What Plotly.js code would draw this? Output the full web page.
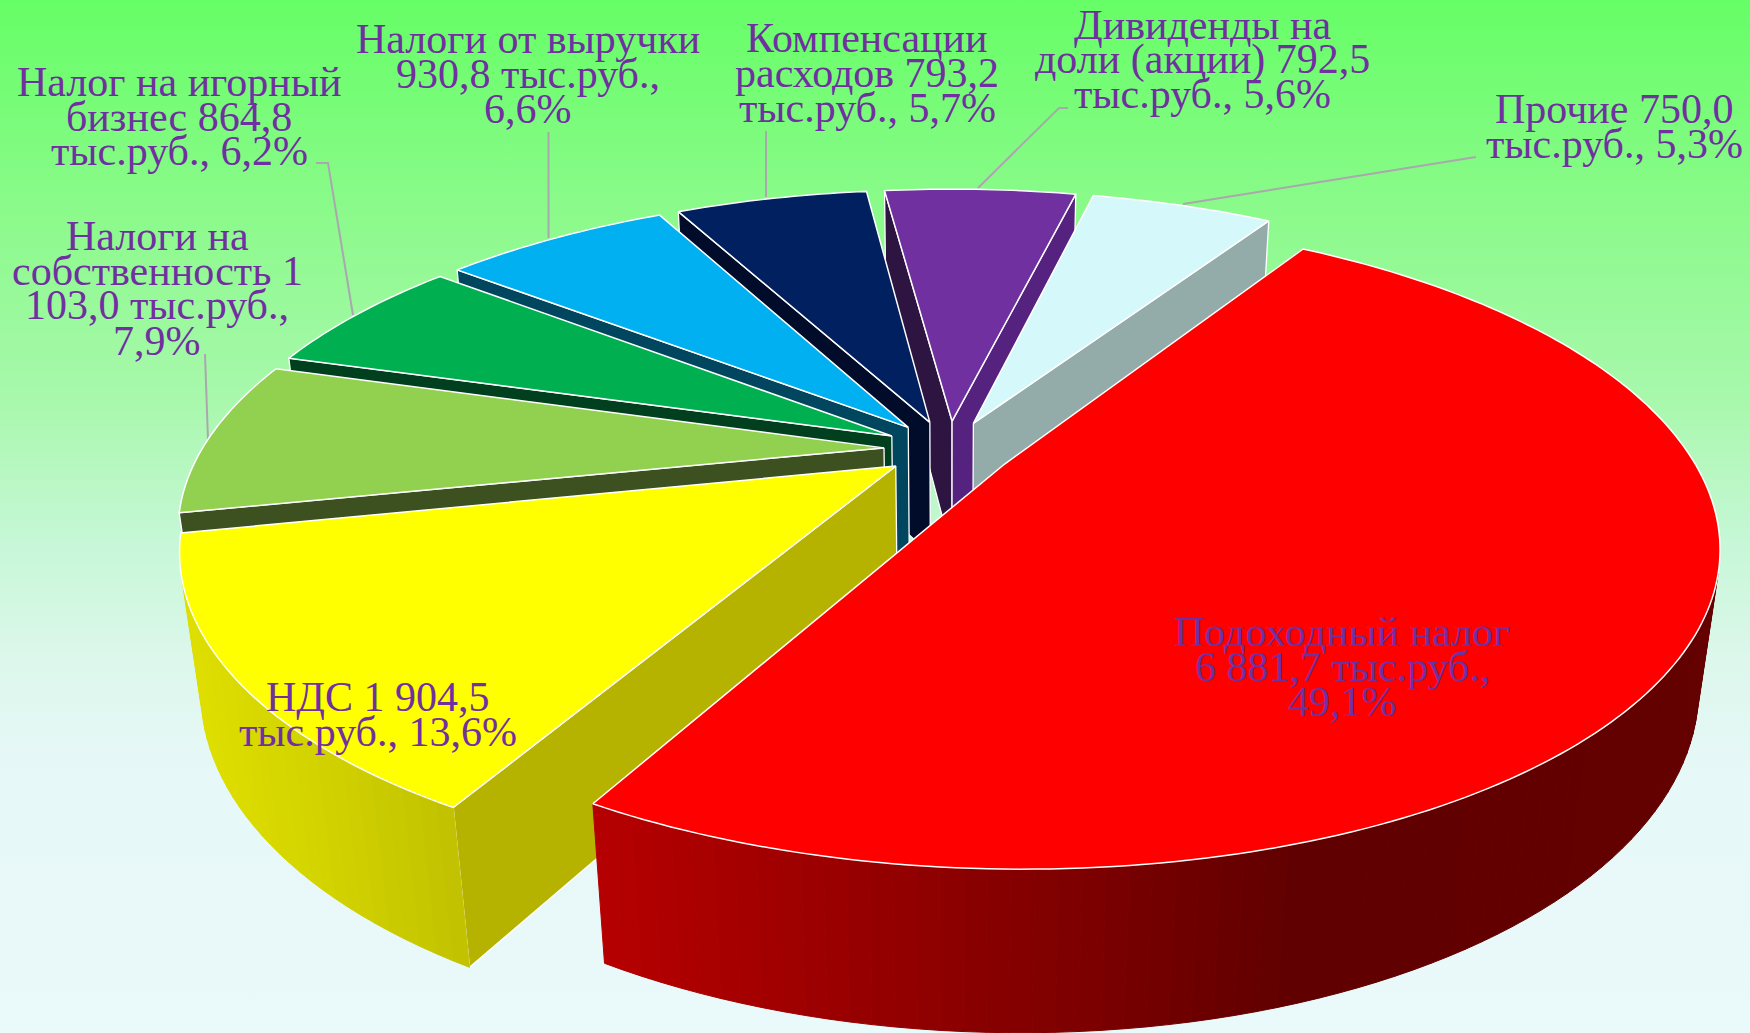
<!DOCTYPE html>
<html><head><meta charset="utf-8">
<script src="https://cdn.plot.ly/plotly-3.0.1.min.js"></script>
<style>
html,body{margin:0;padding:0;width:1750px;height:1033px;overflow:hidden;
background:linear-gradient(180deg,#66FE66 0px,#8CFA8C 220px,#A8F8AC 400px,#C6F7D6 540px,#DDF7EC 660px,#E7F8F8 780px,#EAF9FA 1033px);}
#chart{width:1750px;height:1033px;}
</style></head><body><div id="chart"></div>
<script>
// ---- chart data ----
const categories = ["Подоходный налог","НДС","Налоги на собственность","Налог на игорный бизнес","Налоги от выручки","Компенсации расходов","Дивиденды на доли (акции)","Прочие"];
const values = [6881.7,1904.5,1103.0,864.8,930.8,793.2,792.5,750.0];
const topColors = ["#FF0000","#FFFF00","#92D050","#00B050","#00B0F0","#002060","#7030A0","#D5F8FA"];
const cutColorsA = ["#600000","#B5B200","#3C5020","#00401E","#00465E","#000C2A","#2E1440","#93ACAA"];
const cutColorsB = ["#600000","#B5B200","#3C5020","#00401E","#00465E","#000C2A","#56227F","#93ACAA"];
const rimStops = [
  [[610,[180,0,0]],[1100,[123,0,0]],[1300,[96,0,0]],[1750,[100,0,0]]],
  [[190,[222,222,0]],[300,[212,212,0]],[480,[190,190,0]]],
  [[0,[60,80,32]],[1750,[60,80,32]]],
  [[0,[0,64,30]],[1750,[0,64,30]]],
  [[0,[0,70,94]],[1750,[0,70,94]]],
  [[0,[0,12,42]],[1750,[0,12,42]]],
  [[0,[46,20,64]],[1750,[46,20,64]]],
  [[0,[147,172,170]],[1750,[147,172,170]]]
];
const labelLines = [
  ["Подоходный налог","6 881,7 тыс.руб.,","49,1%"],
  ["НДС 1 904,5","тыс.руб., 13,6%"],
  ["Налоги на","собственность 1","103,0 тыс.руб.,","7,9%"],
  ["Налог на игорный","бизнес 864,8","тыс.руб., 6,2%"],
  ["Налоги от выручки","930,8 тыс.руб.,","6,6%"],
  ["Компенсации","расходов 793,2","тыс.руб., 5,7%"],
  ["Дивиденды на","доли (акции) 792,5","тыс.руб., 5,6%"],
  ["Прочие 750,0","тыс.руб., 5,3%"]
];
const labelX = [1342,378,157,179,528,867,1202,1614];
const labelBaselines = [[645,680,715],[710,745],[249,284,318,354],[95,130,164],[52.7,87,122],[51,86,121],[38,73,107],[122,157]];
const leaders = [
  [[205,354],[208,440]],
  [[316,163],[328,163],[353,315]],
  [[548.5,132],[548.5,238]],
  [[766,131],[766,197]],
  [[1068,108],[1059,108],[978,188]],
  [[1476,157],[1183,204]]
];
// ---- 3D pie view settings ----
const view = {cx:948.7, cy:449, k:682, tilt:26.07*Math.PI/180, dist:3.74, height:0.225, explode:0.095, start:57.5};
const fontPx = 42, textColor = "#7030A0", edge = "#FFFFFF";

const ct=Math.cos(view.tilt), st=Math.sin(view.tilt);
function proj(x,y,z){
  const d=y*ct-z*st, v=y*st+z*ct, s=view.dist/(view.dist+d);
  return [view.cx+view.k*s*x, view.cy-view.k*s*v];
}
const cam=[0,-view.dist*ct,view.dist*st];
const rad=a=>a*Math.PI/180;
const total=values.reduce((a,b)=>a+b,0);
let cum=0;
const slices=values.map((v,i)=>{
  const a0=view.start-360*cum/total; cum+=v;
  const a1=view.start-360*cum/total, mid=(a0+a1)/2;
  return {i,a0,a1,mid,px:view.explode*Math.cos(rad(mid)),py:view.explode*Math.sin(rad(mid))};
});
function poly(pts,fill,lineColor,w){
  const xs=pts.map(p=>p[0]), ys=pts.map(p=>p[1]);
  xs.push(xs[0]); ys.push(ys[0]);
  return {type:"scatter",mode:"lines",x:xs,y:ys,fill:"toself",fillcolor:fill,
    line:{color:lineColor,width:w,simplify:false},hoverinfo:"skip",showlegend:false};
}
function rimColor(stops,x){
  if(x<=stops[0][0]) return stops[0][1];
  for(let j=1;j<stops.length;j++){
    if(x<=stops[j][0]){
      const t=(x-stops[j-1][0])/(stops[j][0]-stops[j-1][0]);
      return stops[j-1][1].map((c,n)=>Math.round(c+(stops[j][1][n]-c)*t));
    }
  }
  return stops[stops.length-1][1];
}
const rgb=c=>`rgb(${c[0]},${c[1]},${c[2]})`;
const traces=[];
// back slices first; the large front slice is painted last
const order=[...slices].sort((a,b)=>(a.i===0?1:0)-(b.i===0?1:0)||b.py-a.py);
order.forEach(s=>{
  const h=view.height, P=[s.px,s.py];
  const rp=(a,z)=>proj(s.px+Math.cos(rad(a)),s.py+Math.sin(rad(a)),z);
  const cut=(a,sign,color)=>{
    const n=[-Math.sin(rad(a))*sign,Math.cos(rad(a))*sign];
    const vis=n[0]*(cam[0]-P[0])+n[1]*(cam[1]-P[1]);
    if(vis>0) traces.push(poly([proj(P[0],P[1],0),rp(a,0),rp(a,-h),proj(P[0],P[1],-h)],color,edge,1.3));
  };
  cut(s.a0,1,cutColorsA[s.i]);
  cut(s.a1,-1,cutColorsB[s.i]);
  // outer rim
  const n=Math.max(4,Math.ceil((s.a0-s.a1)/1.5));
  for(let j=0;j<n;j++){
    const b0=s.a0+(s.a1-s.a0)*j/n, b1=s.a0+(s.a1-s.a0)*(j+1)/n, bm=(b0+b1)/2;
    const nx=Math.cos(rad(bm)), ny=Math.sin(rad(bm));
    const vis=nx*(cam[0]-s.px-nx)+ny*(cam[1]-s.py-ny);
    if(vis<=0) continue;
    const q=[rp(b0,0),rp(b1,0),rp(b1,-h),rp(b0,-h)];
    const col=rgb(rimColor(rimStops[s.i],(q[0][0]+q[1][0])/2));
    traces.push(poly(q,col,col,1));
  }
  // top face
  const top=[proj(P[0],P[1],0)];
  const m=Math.ceil((s.a0-s.a1)/1);
  for(let j=0;j<=m;j++) top.push(rp(s.a0+(s.a1-s.a0)*j/m,0));
  traces.push(poly(top,topColors[s.i],edge,1.5));
});
const annotations=[];
labelLines.forEach((lines,i)=>lines.forEach((t,j)=>annotations.push({
  x:labelX[i],y:labelBaselines[i][j]-13.5,xref:"x",yref:"y",text:t,showarrow:false,
  xanchor:"center",yanchor:"middle",font:{family:"Liberation Serif, Times New Roman, serif",size:fontPx,color:textColor}
})));
const shapes=leaders.map(L=>({type:"path",xref:"x",yref:"y",
  path:L.map((p,i)=>(i?"L":"M")+p[0]+","+p[1]).join(" "),
  line:{color:"#ABA7AE",width:2},layer:"below"}));
Plotly.newPlot("chart",traces,{
  width:1750,height:1033,margin:{l:0,r:0,t:0,b:0},
  paper_bgcolor:"rgba(0,0,0,0)",plot_bgcolor:"rgba(0,0,0,0)",showlegend:false,
  xaxis:{range:[0,1750],visible:false,fixedrange:true},
  yaxis:{range:[1033,0],visible:false,fixedrange:true},
  annotations,shapes,hovermode:false
},{displayModeBar:false,staticPlot:true});
</script></body></html>
